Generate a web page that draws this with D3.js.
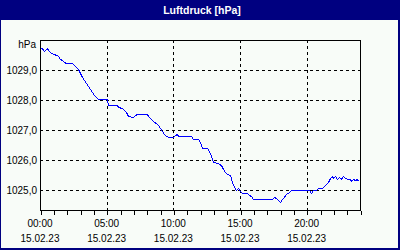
<!DOCTYPE html>
<html><head><meta charset="utf-8">
<script src="https://cdn.jsdelivr.net/npm/d3@7"></script>
<style>
html,body{margin:0;padding:0;background:#fff;}
svg{display:block;}
text{font-family:"Liberation Sans",Arial,sans-serif;}
</style></head>
<body><svg id="c" width="400" height="250"></svg>
<script>
const title = "Luftdruck [hPa]";
const unitLabel = "hPa";
const hours = [0,0.15,0.3,0.525,0.675,0.825,1.05,1.2,1.35,1.5,1.65,1.8,1.95,2.4,2.475,2.7,2.85,3.0,3.15,3.3,3.45,3.6,3.75,3.9,4.05,4.2,4.35,5.025,5.1,5.775,5.85,6.15,6.3,6.45,6.6,6.975,7.125,7.275,8.025,8.1,8.25,8.4,8.55,8.7,8.85,9.0,9.15,9.3,9.45,9.6,9.975,10.125,10.275,10.35,11.325,11.475,11.85,12.0,12.15,12.525,12.675,12.825,12.975,13.35,13.575,13.725,13.875,14.025,14.25,14.4,14.55,14.7,14.85,15.0,15.15,15.525,15.675,15.825,15.975,17.4,17.55,17.7,17.85,18.0,18.15,18.3,18.45,18.6,18.75,18.9,20.175,20.325,20.475,20.7,20.85,21.15,21.3,21.45,21.6,21.75,21.9,21.975,22.125,22.275,22.425,22.575,22.725,22.875,23.025,23.25,23.325,23.475,23.625,23.775,23.85];
const pressure = [1029.73,1029.73,1029.63,1029.73,1029.63,1029.57,1029.53,1029.50,1029.47,1029.37,1029.33,1029.27,1029.23,1029.23,1029.20,1029.10,1029.03,1028.90,1028.77,1028.67,1028.57,1028.47,1028.37,1028.27,1028.17,1028.10,1028.03,1028.03,1027.83,1027.83,1027.77,1027.73,1027.67,1027.60,1027.47,1027.43,1027.50,1027.53,1027.53,1027.47,1027.40,1027.33,1027.27,1027.23,1027.17,1027.07,1026.97,1026.87,1026.80,1026.77,1026.77,1026.83,1026.87,1026.80,1026.80,1026.70,1026.70,1026.60,1026.40,1026.40,1026.30,1026.13,1025.93,1025.90,1025.83,1025.70,1025.60,1025.53,1025.50,1025.27,1025.10,1025.00,1025.07,1024.97,1024.90,1024.90,1024.83,1024.80,1024.70,1024.70,1024.77,1024.73,1024.67,1024.60,1024.70,1024.77,1024.87,1024.90,1024.97,1025.00,1025.00,1024.90,1025.00,1025.00,1025.07,1025.07,1025.13,1025.20,1025.27,1025.40,1025.47,1025.40,1025.47,1025.37,1025.43,1025.37,1025.47,1025.40,1025.37,1025.37,1025.30,1025.37,1025.33,1025.37,1025.30];
const yTicks = [1025,1026,1027,1028,1029];
const xTickHours = [0,5,10,15,20];
const xTickTimes = ["00:00","05:00","10:00","15:00","20:00"];
const xTickDates = ["15.02.23","15.02.23","15.02.23","15.02.23","15.02.23"];

const svg = d3.select("#c");
const W=400,H=250;
const L=40,R=360,T=40,B=210;
const x = d3.scaleLinear().domain([0,24]).range([L,R]);
const y = d3.scaleLinear().domain([1024.3333,1030]).range([B,T]);

svg.append("rect").attr("x",0).attr("y",0).attr("width",W).attr("height",H).attr("fill","#000080");
svg.append("rect").attr("x",1).attr("y",20).attr("width",397).attr("height",228).attr("fill","#f8fcf8");
svg.append("text").attr("x",202).attr("y",14).attr("text-anchor","middle")
  .attr("fill","#fff").attr("font-weight","bold").attr("font-size","10.5px").text(title);

// grid
const g = svg.append("g").attr("shape-rendering","crispEdges");
g.selectAll(".hg").data(yTicks).enter().append("line")
  .attr("x1",L).attr("x2",R).attr("y1",d=>Math.round(y(d))+0.5).attr("y2",d=>Math.round(y(d))+0.5)
  .attr("stroke","#000").attr("stroke-dasharray","3,3");
g.selectAll(".vg").data(xTickHours.filter(h=>h>0)).enter().append("line")
  .attr("x1",d=>Math.round(x(d))+0.5).attr("x2",d=>Math.round(x(d))+0.5).attr("y1",T).attr("y2",B)
  .attr("stroke","#000").attr("stroke-dasharray","3,3");

// frame
g.append("path").attr("d",`M${L+0.5},${B+0.5}V${T+0.5}H${R+0.5}V${B+0.5}`).attr("fill","none").attr("stroke","#000");

// bottom axis with hourly ticks
const xa = d3.axisBottom(x).tickValues(d3.range(0,25)).tickSize(4).tickFormat("");
const axG = svg.append("g").attr("transform",`translate(0.5,${B+0.5})`).attr("shape-rendering","crispEdges").call(xa);
axG.select(".domain").attr("stroke","#000").attr("d",`M${L},0H${R}`);
axG.selectAll(".tick line").attr("stroke","#000");

// y labels
svg.selectAll(".yl").data(yTicks).enter().append("text")
  .attr("x",37).attr("y",d=>y(d)+4).attr("text-anchor","end").attr("font-size","10px").attr("fill","#000")
  .text(d=>d3.format(".1f")(d).replace(".",","));
svg.append("text").attr("x",36).attr("y",48).attr("text-anchor","end").attr("font-size","10px").attr("fill","#000").text(unitLabel);

// x labels
svg.selectAll(".xl").data(xTickHours).enter().append("text")
  .attr("x",d=>x(d)).attr("y",227).attr("text-anchor","middle").attr("font-size","10px").attr("fill","#000")
  .text((d,i)=>xTickTimes[i]);
svg.selectAll(".xd").data(xTickHours).enter().append("text")
  .attr("x",d=>x(d)).attr("y",242).attr("text-anchor","middle").attr("font-size","10px").attr("fill","#000")
  .text((d,i)=>xTickDates[i]);

// line
const pts = hours.map((h,i)=>[h,pressure[i]]);
svg.append("path").datum(pts)
  .attr("d",d3.line().x(d=>x(d[0])+0.5).y(d=>y(d[1])+0.5))
  .attr("fill","none").attr("stroke","#0000ff").attr("stroke-width",1)
  .attr("shape-rendering","crispEdges");
</script></body></html>
